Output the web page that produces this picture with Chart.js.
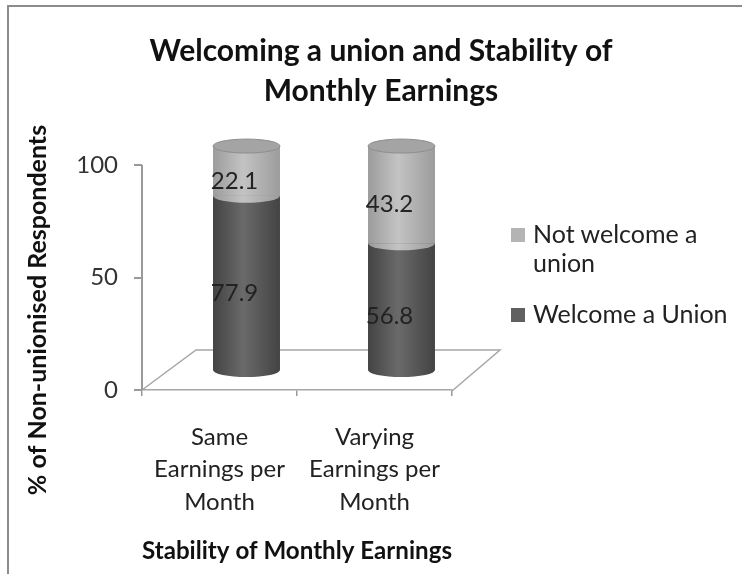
<!DOCTYPE html>
<html>
<head>
<meta charset="utf-8">
<title>Welcoming a union and Stability of Monthly Earnings</title>
<script src="https://cdn.jsdelivr.net/npm/chart.js@4.4.1/dist/chart.umd.min.js"></script>
<style>
    html, body { margin: 0; padding: 0; background: #fff; }
    #wrap { position: relative; width: 742px; height: 574px; overflow: hidden; font-family: Lato, 'Open Sans', sans-serif; }
    #frame { position: absolute; left: 7px; top: 5px; width: 800px; height: 640px; border-left: 2px solid #8c8c8c; border-top: 2px solid #8c8c8c; }
    #chart { position: absolute; left: 0; top: 0; }
    #legend { position: absolute; left: 511px; top: 219px; color: #222; font-size: 25px; line-height: 29px; }
    .item { display: flex; align-items: flex-start; margin-bottom: 22px; }
    .box { width: 14px; height: 14px; margin-top: 9px; margin-right: 8px; flex: none; }
    .txt { width: 205px; }
</style>
</head>
<body>
<div id="wrap">
    <div id="frame"></div>
    <canvas id="chart" width="742" height="574"></canvas>
    <div id="legend"></div>
</div>
<script>
// Daten aus der Grafik
const categories = [['Same', 'Earnings per', 'Month'], ['Varying', 'Earnings per', 'Month']];
const welcomeUnion = [77.9, 56.8];
const notWelcome = [22.1, 43.2];
const seriesNames = ['Welcome a Union', 'Not welcome a union'];
const yTicks = [0, 50, 100];

const chartTitle = ['Welcoming a union and Stability of', 'Monthly Earnings'];
const xTitle = 'Stability of Monthly Earnings';
const yTitle = '% of Non-unionised Respondents';

const FONT = "Lato, 'Open Sans', sans-serif";
const BAR_PCT = 0.432;
// Versatz der Zylinder in die Tiefe (Pseudo-3D)
const DX = 27, DY = -19, RY = 7;

// Farben: [Mitte, Rand, Legende]
const darkCol = ['#6a6a6a', '#434343', '#606060'];
const lightCol = ['#c3c3c3', '#9c9c9c', '#b4b4b4'];

// horizontaler Verlauf, damit die Balken wie Zylinder aussehen
function cylinderFill(col) {
    return function(context) {
        const chart = context.chart;
        const xs = chart.scales.x;
        if (!chart.chartArea || !xs) return col[0];
        const w = xs.width / categories.length * BAR_PCT;
        const xc = xs.getPixelForValue(context.dataIndex);
        const g = chart.ctx.createLinearGradient(xc - w / 2, 0, xc + w / 2, 0);
        g.addColorStop(0, col[1]);
        g.addColorStop(0.45, col[0]);
        g.addColorStop(1, col[1]);
        return g;
    };
}

const cylinderPlugin = {
    id: 'cylinder3d',
    beforeDatasetsDraw(chart) {
        const ctx = chart.ctx, xs = chart.scales.x, ys = chart.scales.y;
        const y0 = ys.getPixelForValue(yTicks[0]);
        const yTop = ys.getPixelForValue(yTicks[yTicks.length - 1]);
        ctx.save();
        // Bodenfläche
        ctx.strokeStyle = '#a6a6a6';
        ctx.lineWidth = 1.5;
        ctx.beginPath();
        ctx.moveTo(xs.left, y0);
        ctx.lineTo(xs.left + 54, y0 - 40);
        ctx.lineTo(xs.right + 48, y0 - 40);
        ctx.lineTo(xs.right, y0 + 1);
        ctx.stroke();
        // y-Achse nur bis 100
        ctx.strokeStyle = '#999';
        ctx.lineWidth = 2;
        ctx.beginPath();
        ctx.moveTo(xs.left, yTop);
        ctx.lineTo(xs.left, y0);
        ctx.stroke();
        ctx.restore();
        ctx.save();
        ctx.translate(DX, DY);
    },
    afterDatasetsDraw(chart) {
        const ctx = chart.ctx;
        const n = chart.data.datasets.length;
        chart.data.datasets.forEach(function(ds, i) {
            chart.getDatasetMeta(i).data.forEach(function(el) {
                const p = el.getProps(['x', 'y', 'base', 'width'], true);
                // untere Rundung
                ctx.beginPath();
                ctx.ellipse(p.x, p.base, p.width / 2, RY, 0, 0, Math.PI);
                ctx.fillStyle = el.options.backgroundColor;
                ctx.fill();
                // Deckel
                if (i === n - 1) {
                    ctx.beginPath();
                    ctx.ellipse(p.x, p.y, p.width / 2, RY, 0, 0, Math.PI * 2);
                    ctx.fillStyle = '#a4a4a4';
                    ctx.fill();
                    ctx.strokeStyle = '#8e8e8e';
                    ctx.lineWidth = 1;
                    ctx.stroke();
                }
            });
        });
        ctx.restore();

        // Datenbeschriftung
        ctx.save();
        ctx.font = '24px ' + FONT;
        ctx.fillStyle = '#222';
        ctx.textAlign = 'center';
        ctx.textBaseline = 'middle';
        chart.data.datasets.forEach(function(ds, i) {
            chart.getDatasetMeta(i).data.forEach(function(el, j) {
                const p = el.getProps(['x', 'y', 'base'], true);
                ctx.fillText(ds.data[j].toFixed(1), p.x + 15, (p.y + p.base) / 2 - 9);
            });
        });
        ctx.restore();
    },
    afterDraw(chart) {
        // y-Achsentitel
        const ctx = chart.ctx;
        ctx.save();
        ctx.translate(38, 310);
        ctx.rotate(-Math.PI / 2);
        ctx.font = 'bold 25px ' + FONT;
        ctx.fillStyle = '#111';
        ctx.textAlign = 'center';
        ctx.textBaseline = 'middle';
        ctx.fillText(yTitle, 0, 0);
        ctx.restore();
    }
};

const data = {
    labels: categories,
    datasets: [
        {
            label: seriesNames[0],
            data: welcomeUnion,
            backgroundColor: cylinderFill(darkCol),
            borderWidth: 0,
            clip: false
        },
        {
            label: seriesNames[1],
            data: notWelcome,
            backgroundColor: cylinderFill(lightCol),
            borderWidth: 0,
            clip: false
        }
    ]
};

const config = {
    type: 'bar',
    data: data,
    plugins: [cylinderPlugin],
    options: {
        responsive: false,
        animation: false,
        barPercentage: BAR_PCT,
        categoryPercentage: 1.0,
        layout: { padding: { left: 20, right: 0, top: 0, bottom: 0 } },
        scales: {
            x: {
                stacked: true,
                grid: { drawOnChartArea: false, drawTicks: true, tickLength: 6, color: '#999', lineWidth: 1.5 },
                border: { color: '#a6a6a6', width: 1.5 },
                ticks: { color: '#222', padding: 25, font: { family: FONT, size: 24, lineHeight: 32.5 / 24 }, maxRotation: 0 },
                title: { display: true, text: xTitle, color: '#111', font: { family: FONT, size: 25, weight: 'bold' }, padding: { top: 0, bottom: 8 } },
                afterFit: function(s) { s.height = 184; }
            },
            y: {
                stacked: true,
                min: 0,
                max: 110.7,
                grid: { drawOnChartArea: false, drawTicks: true, tickLength: 8, color: '#999', lineWidth: 2 },
                border: { display: false },
                ticks: { color: '#333', padding: 16, font: { family: FONT, size: 24 } },
                afterBuildTicks: function(s) { s.ticks = yTicks.map(function(v) { return { value: v }; }); },
                afterFit: function(s) { s.width = 122; }
            },
            // Platzhalter rechts für die Legende
            yR: {
                type: 'linear',
                position: 'right',
                grid: { display: false },
                border: { display: false },
                ticks: { display: false },
                afterFit: function(s) { s.width = 290; }
            }
        },
        plugins: {
            legend: { display: false },
            tooltip: { enabled: false },
            title: {
                display: true,
                text: chartTitle,
                color: '#111',
                font: { family: FONT, size: 30, weight: 'bold', lineHeight: 40 / 30 },
                padding: { top: 31, bottom: 30 }
            }
        }
    }
};

const unionChart = new Chart(document.getElementById('chart').getContext('2d'), config);

// Legende (umgekehrte Reihenfolge wie in Excel)
const legendEl = document.getElementById('legend');
[[seriesNames[1], lightCol[2]], [seriesNames[0], darkCol[2]]].forEach(function(it) {
    const row = document.createElement('div');
    row.className = 'item';
    const box = document.createElement('span');
    box.className = 'box';
    box.style.background = it[1];
    const txt = document.createElement('span');
    txt.className = 'txt';
    txt.textContent = it[0];
    row.appendChild(box);
    row.appendChild(txt);
    legendEl.appendChild(row);
});
</script>
</body>
</html>
